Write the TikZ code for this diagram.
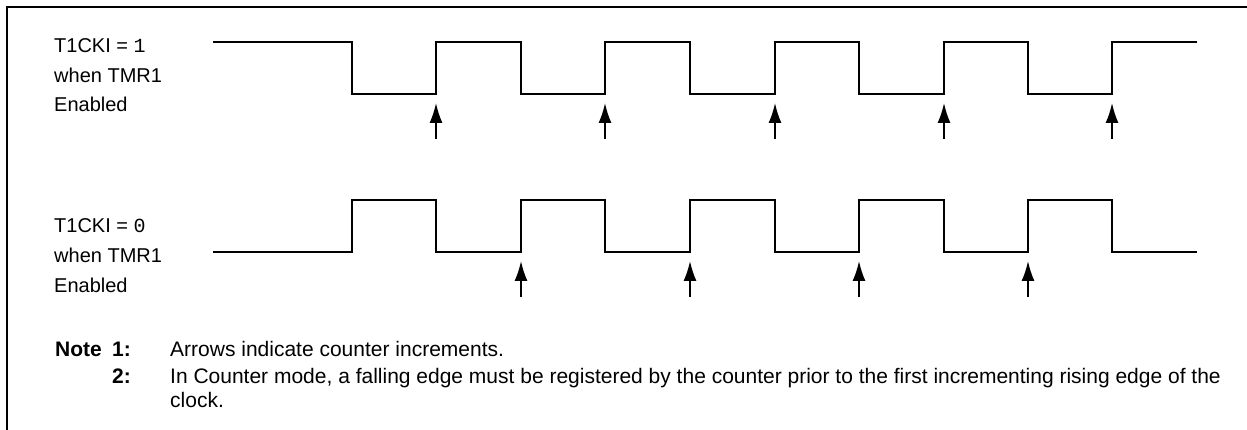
\documentclass[tikz,border=0pt]{standalone}
\usepackage{fontspec}
\setmainfont{Liberation Sans}
\newfontfamily\digitfont{Liberation Mono}
\usetikzlibrary{arrows.meta}
\newcommand{\wavew}{1.7pt}
\newcommand{\lblsize}{\fontsize{20}{24}\selectfont}
\newcommand{\notesize}{\fontsize{21}{25}\selectfont}

\begin{document}
\begin{tikzpicture}[x=1pt,y=-1pt]
    \tikzset{wave/.style = {line width=\wavew, line join=miter},
             incr/.style = {line width=\wavew, -{Latex[length=20pt,width=13pt]}},
             lbl/.style  = {anchor=base west, inner sep=0pt, font=\lblsize},
             note/.style = {anchor=base west, inner sep=0pt, font=\notesize}}
    \useasboundingbox (0,0) rectangle (1247,430);
    %\draw[help lines] (0,0) grid[step=100] (1247,430);

    % frame
    \draw[line width=2pt] (7,430) -- (7,7) -- (1247,7);

    % T1CKI = 1
    \node[lbl] (hiA) at (54,53) {T1CKI = {\digitfont 1}};
    \node[lbl] (hiB) at (54,83) {when TMR1};
    \node[lbl] (hiC) at (54,112) {Enabled};

    \draw[wave] (213,42) -- (352,42) -- (352,94) -- (436,94) -- (436,42)
        -- (521,42) -- (521,94) -- (605,94) -- (605,42)
        -- (690,42) -- (690,94) -- (775,94) -- (775,42)
        -- (859,42) -- (859,94) -- (944,94) -- (944,42)
        -- (1028,42) -- (1028,94) -- (1112,94) -- (1112,42) -- (1197,42);

    \coordinate (upA1) at (436,139);
    \coordinate (upA2) at (605,139);
    \coordinate (upA3) at (775,139);
    \coordinate (upA4) at (944,139);
    \coordinate (upA5) at (1112,139);
    \draw[incr] (upA1) -- ++(0,-36);
    \draw[incr] (upA2) -- ++(0,-36);
    \draw[incr] (upA3) -- ++(0,-36);
    \draw[incr] (upA4) -- ++(0,-36);
    \draw[incr] (upA5) -- ++(0,-36);

    % T1CKI = 0
    \node[lbl] (loA) at (54,233) {T1CKI = {\digitfont 0}};
    \node[lbl] (loB) at (54,263) {when TMR1};
    \node[lbl] (loC) at (54,292) {Enabled};

    \draw[wave] (213,252) -- (352,252) -- (352,200) -- (436,200) -- (436,252)
        -- (521,252) -- (521,200) -- (605,200) -- (605,252)
        -- (690,252) -- (690,200) -- (775,200) -- (775,252)
        -- (859,252) -- (859,200) -- (944,200) -- (944,252)
        -- (1028,252) -- (1028,200) -- (1112,200) -- (1112,252) -- (1197,252);

    \coordinate (upB1) at (521,297);
    \coordinate (upB2) at (690,297);
    \coordinate (upB3) at (859,297);
    \coordinate (upB4) at (1028,297);
    \draw[incr] (upB1) -- ++(0,-36);
    \draw[incr] (upB2) -- ++(0,-36);
    \draw[incr] (upB3) -- ++(0,-36);
    \draw[incr] (upB4) -- ++(0,-36);

    % notes
    \node[note, font=\notesize\bfseries] (noteHd) at (55,356) {Note};
    \node[note, font=\notesize\bfseries] (nA) at (112,356) {1:};
    \node[note, font=\notesize\bfseries] (nB) at (112,383) {2:};
    \node[note] (nAtxt) at (170,356) {Arrows indicate counter increments.};
    \node[note] (nBtxt) at (170,383) {In Counter mode, a falling edge must be registered by the counter prior to the first incrementing rising edge of the};
    \node[note] (nCtxt) at (170,407) {clock.};
\end{tikzpicture}
\end{document}
